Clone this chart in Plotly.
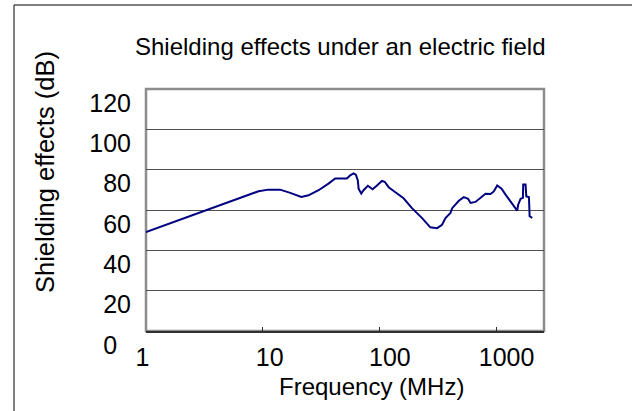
import plotly.graph_objects as go

# ---- data ----
freq_mhz = [1, 8.0, 9.2, 11.2, 14.1, 17.2, 21.4, 24.7, 30.1, 36.6, 41.8, 52.6, 56.2, 60, 62.8,
            65.3, 66.3, 69.9, 73.1, 79.6, 87.4, 95.3, 105, 111, 120, 137, 161, 190, 232, 273,
            312, 344, 368, 406, 420, 479, 528, 575, 603, 665, 735, 811, 895, 955, 1021, 1113,
            1204, 1331, 1449, 1514, 1546, 1620, 1695, 1706, 1787, 1811, 1910, 1936, 2038]
shield_db = [49.0, 68.0, 69.3, 70.1, 70.1, 68.5, 66.5, 67.3, 69.8, 73.1, 75.6, 75.6, 77.2, 78.2, 77.5,
             74.7, 70.6, 68.1, 69.8, 72.0, 70.3, 72.2, 74.4, 74.0, 71.3, 68.8, 65.8, 60.9, 56.0, 51.4,
             51.0, 52.7, 56.0, 58.5, 60.9, 64.6, 66.4, 65.6, 63.5, 64.0, 65.9, 68.1, 67.9, 69.2, 72.2, 70.6,
             67.6, 64.3, 61.3, 59.7, 62.7, 65.6, 66.0, 72.6, 72.6, 66.8, 66.3, 56.9, 56.1]

x_tick_vals = [1, 10, 100, 1000]
x_tick_text = ["1\u00a0", "\u00a0\u00a010", "\u00a0\u00a0\u00a0100", "\u00a0\u00a0\u00a01000"]
y_tick_vals = [0, 20, 40, 60, 80, 100, 120]
y_tick_text = ["0\u00a0\u00a0", "20", "40", "60", "80", "100", "120"]

title_text = "Shielding effects under an electric field"
x_title = "Frequency (MHz)"
y_title = "Shielding effects (dB)"

# ---- layout geometry (pixels) ----
W, H = 632, 411
L, R, T, B = 146, 544, 89, 331
FONT = "Arial, Liberation Sans, sans-serif"


def px_x(p):
    return (p - L) / (R - L)


def px_y(p):
    return (B - p) / (B - T)


fig = go.Figure()
fig.add_trace(go.Scatter(
    x=freq_mhz, y=shield_db, mode="lines",
    line=dict(color="#000080", width=2),
    hoverinfo="skip", showlegend=False,
))

fig.update_layout(
    width=W, height=H,
    margin=dict(l=L, r=W - R, t=T, b=H - B, pad=0),
    paper_bgcolor="white", plot_bgcolor="white",
    font=dict(family=FONT, color="black", size=25),
    showlegend=False,
    xaxis=dict(
        type="log", range=[0, 3.41],
        tickvals=x_tick_vals, ticktext=x_tick_text,
        ticks="inside", ticklen=4, tickwidth=1, tickcolor="#303030",
        showgrid=False, zeroline=False,
        showline=True, linecolor="#303030", linewidth=2,
        tickfont=dict(size=25), ticklabelstandoff=3,
    ),
    yaxis=dict(
        range=[0, 120],
        tickvals=y_tick_vals, ticktext=y_tick_text,
        ticks="", showgrid=True, gridcolor="#505050", gridwidth=1,
        zeroline=False, showline=False,
        tickfont=dict(size=25), ticklabelstandoff=14, ticklabelshift=14,
    ),
    shapes=[
        # plot area frame (grey)
        dict(type="rect", xref="paper", yref="paper", x0=0, x1=1, y0=0, y1=1,
             line=dict(color="#8c8c8c", width=2.5), layer="below"),
        # outer chart border (black)
        dict(type="rect", xref="paper", yref="paper",
             x0=px_x(14), x1=px_x(660), y0=px_y(440), y1=px_y(5),
             line=dict(color="black", width=1), layer="below"),
    ],
    annotations=[
        dict(text=title_text, xref="paper", yref="paper", x=px_x(340), y=px_y(47),
             xanchor="center", yanchor="middle", showarrow=False, font=dict(size=24)),
        dict(text=x_title, xref="paper", yref="paper", x=px_x(371), y=px_y(386),
             xanchor="center", yanchor="middle", showarrow=False, font=dict(size=24)),
        dict(text=y_title, xref="paper", yref="paper", x=px_x(45), y=px_y(172),
             xanchor="center", yanchor="middle", showarrow=False, textangle=-90,
             font=dict(size=25.5)),
    ],
)

fig.write_html("out.html")
